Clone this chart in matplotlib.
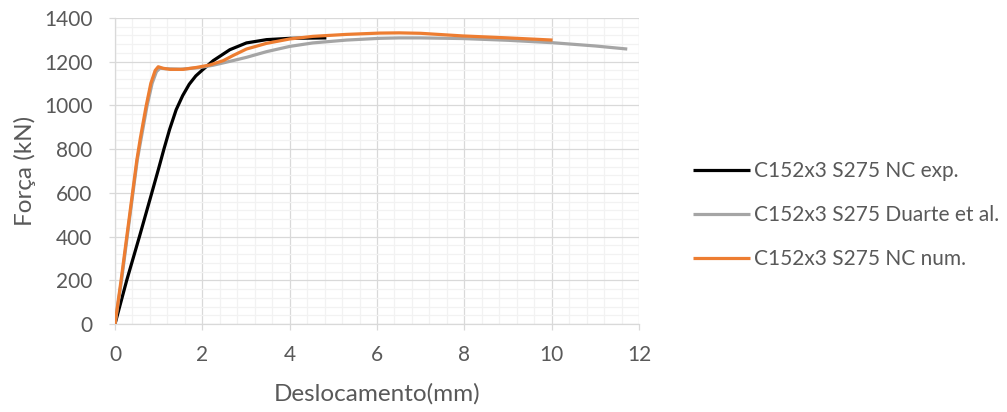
import matplotlib
matplotlib.use("Agg")
import matplotlib.pyplot as plt
from matplotlib.ticker import MultipleLocator

# Data
exp_x = [0, 0.27, 0.56, 0.84, 1.0, 1.12, 1.25, 1.4, 1.55, 1.7, 1.85, 2.0, 2.25, 2.63, 3.01, 3.47, 4.0, 4.84]
exp_y = [0, 201, 400, 598, 712, 800, 890, 980, 1045, 1097, 1135, 1162, 1205, 1255, 1286, 1301, 1307, 1309]

duarte_x = [0, 0.15, 0.28, 0.41, 0.51, 0.60, 0.73, 0.85, 0.95, 1.03, 1.15, 1.5, 1.9, 2.25, 2.70,
            3.01, 3.47, 4.0, 4.53, 5.3, 6.06, 6.51, 7.0, 7.96, 9.0, 10.02, 11.0, 11.73]
duarte_y = [0, 200, 400, 598, 750, 850, 994, 1101, 1155, 1170, 1168, 1166, 1172, 1184, 1205,
            1220, 1246, 1270, 1286, 1299, 1307, 1309, 1309, 1306, 1298, 1287, 1272, 1258]

num_x = [0, 0.14, 0.27, 0.40, 0.50, 0.58, 0.71, 0.82, 0.92, 0.99, 1.1, 1.26, 1.56, 1.87, 2.17,
         2.48, 2.70, 3.01, 3.47, 4.0, 4.53, 5.3, 6.06, 6.51, 7.0, 7.96, 9.0, 10.02]
num_y = [0, 201, 400, 598, 750, 850, 994, 1101, 1160, 1177, 1170, 1165, 1165, 1174, 1185,
         1205, 1228, 1258, 1284, 1304, 1316, 1325, 1331, 1332, 1330, 1318, 1309, 1299]

labels = ["C152x3 S275 NC exp.", "C152x3 S275 Duarte et al.", "C152x3 S275 NC num."]
colors = ["#000000", "#A5A5A5", "#ED7D31"]

plt.rcParams['font.family'] = ['Lato', 'DejaVu Sans']
txt = "#595959"

fig = plt.figure(figsize=(10.07, 4.12), dpi=100)
ax = fig.add_axes([0.1142, 0.2136, 0.6346 - 0.1142, 0.9563 - 0.2136])

for xs, ys, lab, c in zip([exp_x, duarte_x, num_x], [exp_y, duarte_y, num_y], labels, colors):
    ax.plot(xs, ys, color=c, lw=2.3, label=lab, solid_capstyle='butt',
            solid_joinstyle='round', zorder=3)

ax.set_xlim(0, 12)
ax.set_ylim(0, 1400)
ax.xaxis.set_major_locator(MultipleLocator(2))
ax.xaxis.set_minor_locator(MultipleLocator(0.4))
ax.yaxis.set_major_locator(MultipleLocator(200))
ax.yaxis.set_minor_locator(MultipleLocator(40))
ax.grid(which='minor', color='#F2F2F2', lw=0.9, zorder=0)
ax.grid(which='major', color='#D9D9D9', lw=0.9, zorder=1)
ax.set_axisbelow(True)

for s in ['top', 'right']:
    ax.spines[s].set_visible(False)
for s in ['left', 'bottom']:
    ax.spines[s].set_color('#D9D9D9')
    ax.spines[s].set_linewidth(0.9)

ax.tick_params(which='major', direction='out', length=4.3, color='#D9D9D9', width=0.9,
               labelsize=15, labelcolor=txt)
ax.tick_params(axis='x', pad=11)
ax.tick_params(axis='y', pad=12)
ax.tick_params(which='minor', length=0)

ax.set_xlabel("Deslocamento(mm)", fontsize=17.5, color=txt, labelpad=13)
ax.set_ylabel("Força (kN)", fontsize=17.5, color=txt, labelpad=6)

fig.legend(loc='center left', bbox_to_anchor=(0.678, 0.478), frameon=False, borderpad=0,
           fontsize=15, labelcolor=txt, handlelength=2.75, handletextpad=0.15,
           labelspacing=1.15)

fig.savefig("out.png", dpi=100)
